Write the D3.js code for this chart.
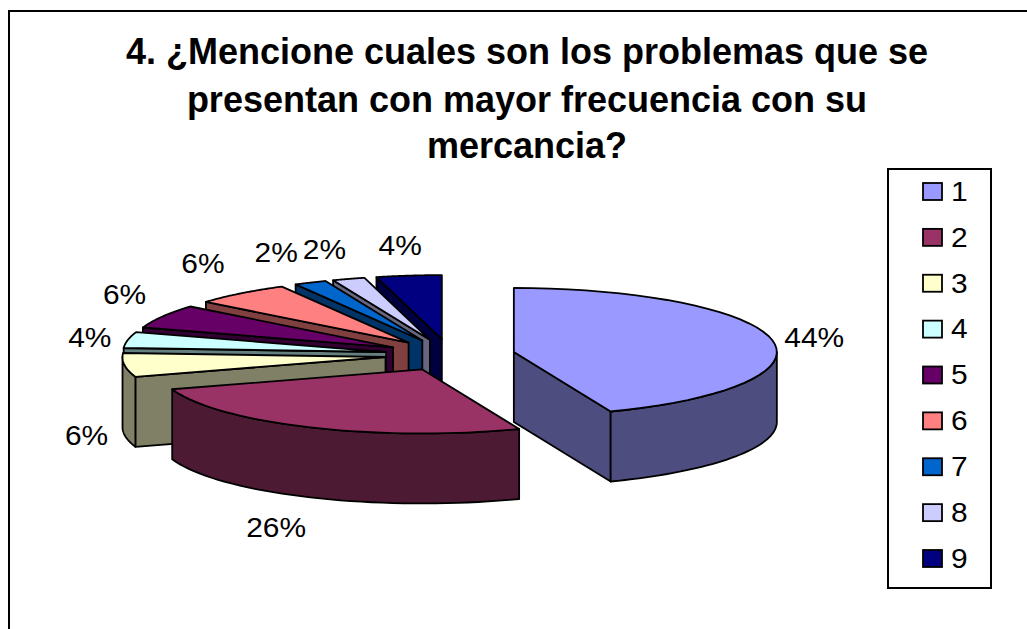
<!DOCTYPE html>
<html>
<head>
<meta charset="utf-8">
<script src="https://cdnjs.cloudflare.com/ajax/libs/d3/7.8.5/d3.min.js"></script>
<style>
  html, body { margin: 0; padding: 0; background: #fff; }
  text { font-family: "Liberation Sans", Arial, sans-serif; fill: #000; }
</style>
</head>
<body>
<svg width="1027" height="629"></svg>
<script>
var titleLines = ["4. ¿Mencione cuales son los problemas que se",
                  "presentan con mayor frecuencia con su",
                  "mercancia?"];
var categories = ["1", "2", "3", "4", "5", "6", "7", "8", "9"];
var percents = [44, 26, 6, 4, 6, 6, 2, 2, 4];
var topColors = ["#9999ff", "#993366", "#ffffcc", "#ccffff", "#660066",
                 "#ff8080", "#0066cc", "#ccccff", "#000080"];

var svg = d3.select("svg"),
    width = +svg.attr("width"),
    height = +svg.attr("height");

var cx = 450, cy = 355,
    rx = 263, ry = 64,
    ex = 65, ey = 16,
    depth = 70;

var color = d3.scaleOrdinal().domain(categories).range(topColors);

// how far a label sits above/below the rim, by |cos(mid angle)|
var labelLift = d3.scaleLinear().domain([0.15, 0.6]).range([0, 30]).clamp(true);

// walls are the top colour at half brightness
function dark(c) {
  var r = d3.rgb(c);
  return d3.rgb(r.r / 2, r.g / 2, r.b / 2).formatHex();
}

// frame runs off the bottom and right of the picture
svg.append("path")
    .attr("d", "M9," + height + "V11H" + width)
    .attr("fill", "none")
    .attr("stroke", "#000")
    .attr("stroke-width", 2);

svg.append("g")
    .attr("font-weight", "bold")
    .attr("font-size", 36)
    .attr("text-anchor", "middle")
  .selectAll("text")
  .data(titleLines)
  .enter().append("text")
    .attr("x", 527)
    .attr("y", function(d, i) { return [64, 112, 158][i]; })
    .text(function(d) { return d; });

var pie = d3.pie().sort(null)
    .value(function(d) { return d.value; })
    .startAngle(0).endAngle(2 * Math.PI);

var slices = pie(categories.map(function(c, i) {
  return {name: c, value: percents[i]};
}));

slices.forEach(function(d) {
  d.mid = (d.startAngle + d.endAngle) / 2;
  d.ax = cx + ex * Math.sin(d.mid);
  d.ay = cy - ey * Math.cos(d.mid);
});

function pt(d, a, drop) {
  return [d.ax + rx * Math.sin(a), d.ay - ry * Math.cos(a) + (drop || 0)];
}

function arcPoints(d, a0, a1, drop) {
  return d3.range(0, 41).map(function(i) {
    return pt(d, a0 + (a1 - a0) * i / 40, drop);
  });
}

var line = d3.line();

function topFace(d) {
  return line([[d.ax, d.ay]].concat(arcPoints(d, d.startAngle, d.endAngle))) + "Z";
}

function cutWall(d, a) {
  var p = pt(d, a), q = pt(d, a, depth);
  return line([[d.ax, d.ay], p, q, [d.ax, d.ay + depth]]) + "Z";
}

// outer wall only exists on the front half of the ellipse
function outerWall(d) {
  var a0 = Math.max(d.startAngle, Math.PI / 2),
      a1 = Math.min(d.endAngle, 3 * Math.PI / 2);
  if (a1 <= a0) return null;
  return line(arcPoints(d, a0, a1).concat(arcPoints(d, a1, a0, depth))) + "Z";
}

var order = slices.slice().sort(function(a, b) {
  return d3.descending(Math.cos(a.mid), Math.cos(b.mid));
});

var slice = svg.append("g")
    .attr("stroke", "#000")
    .attr("stroke-width", 1.8)
    .attr("stroke-linejoin", "round")
  .selectAll("g")
  .data(order)
  .enter().append("g");

slice.each(function(d) {
  var g = d3.select(this),
      c = color(d.data.name);
  if (Math.sin(d.startAngle) < -1e-6)
    g.append("path").attr("d", cutWall(d, d.startAngle)).attr("fill", dark(c));
  if (Math.sin(d.endAngle) > 1e-6)
    g.append("path").attr("d", cutWall(d, d.endAngle)).attr("fill", dark(c));
  var w = outerWall(d);
  if (w) g.append("path").attr("d", w).attr("fill", dark(c));
  g.append("path").attr("d", topFace(d)).attr("fill", c);
});

// the original text is a little wider than the font, hence the scale(1.07,1)
svg.append("g")
    .attr("font-size", 28)
    .attr("text-anchor", "middle")
  .selectAll("text")
  .data(slices)
  .enter().append("text")
    .attr("transform", function(d) {
      var p = pt(d, d.mid),
          c = Math.cos(d.mid),
          x = p[0] + 2 + Math.max(-40, Math.min(40, 85 * Math.sin(d.mid))),
          y = p[1] + (c < 0 ? depth + labelLift(-c) : -labelLift(c));
      return "translate(" + x + "," + y + ") scale(1.07,1)";
    })
    .attr("dy", "0.35em")
    .text(function(d) { return d.data.value + "%"; });

// legend
svg.append("rect")
    .attr("x", 888).attr("y", 169)
    .attr("width", 103).attr("height", 419)
    .attr("fill", "#fff")
    .attr("stroke", "#000")
    .attr("stroke-width", 2);

var legendY = d3.scalePoint().domain(categories).range([191, 558]);

var legend = svg.append("g")
  .selectAll("g")
  .data(categories)
  .enter().append("g")
    .attr("transform", function(d) { return "translate(923," + legendY(d) + ")"; });

legend.append("rect")
    .attr("y", -8)
    .attr("width", 19).attr("height", 17)
    .attr("fill", function(d) { return color(d); })
    .attr("stroke", "#000")
    .attr("stroke-width", 1.8);

legend.append("text")
    .attr("transform", "translate(28,0) scale(1.07,1)")
    .attr("dy", "0.35em")
    .attr("font-size", 28)
    .text(function(d) { return d; });
</script>
</body>
</html>
